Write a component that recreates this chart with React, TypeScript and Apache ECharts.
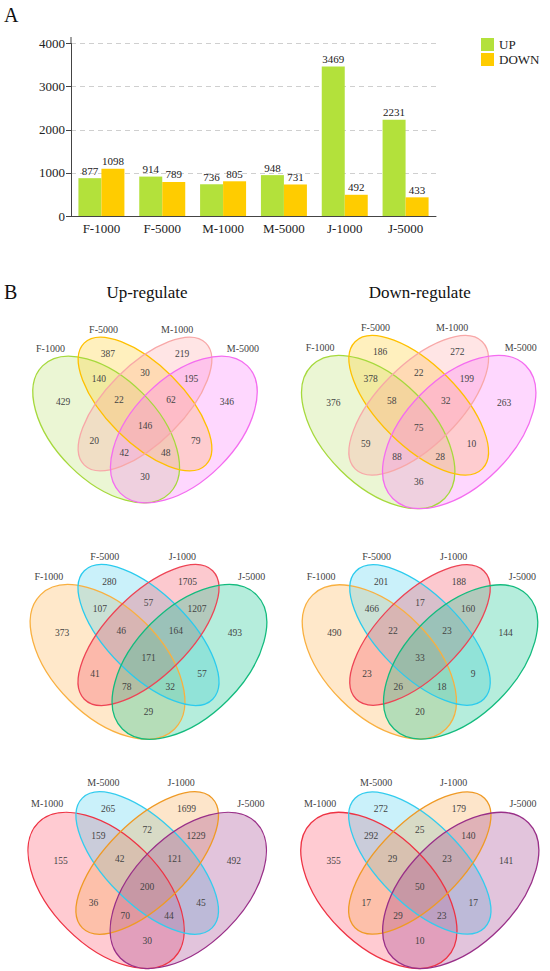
import React, { useEffect, useRef } from 'react';
import * as echarts from 'echarts';

// ---------- Panel A data ----------
const categories = ['F-1000', 'F-5000', 'M-1000', 'M-5000', 'J-1000', 'J-5000'];
const upValues = [877, 914, 736, 948, 3469, 2231];
const downValues = [1098, 789, 805, 731, 492, 433];
const yTicks = [0, 1000, 2000, 3000, 4000];

// ---------- Panel B data (region order: A, B, C, D, AB, BC, CD, ABC, BCD, ABCD, AC, BD, ACD, ABD, AD) ----------
const namesFM = ['F-1000', 'F-5000', 'M-1000', 'M-5000'];
const namesFJ = ['F-1000', 'F-5000', 'J-1000', 'J-5000'];
const namesMJ = ['M-1000', 'M-5000', 'J-1000', 'J-5000'];
const upFM = [429, 387, 219, 346, 140, 30, 195, 22, 62, 146, 20, 79, 42, 48, 30];
const downFM = [376, 186, 272, 263, 378, 22, 199, 58, 32, 75, 59, 10, 88, 28, 36];
const upFJ = [373, 280, 1705, 493, 107, 57, 1207, 46, 164, 171, 41, 57, 78, 32, 29];
const downFJ = [490, 201, 188, 144, 466, 17, 160, 22, 23, 33, 23, 9, 26, 18, 20];
const upMJ = [155, 265, 1699, 492, 159, 72, 1229, 42, 121, 200, 36, 45, 70, 44, 30];
const downMJ = [355, 272, 179, 141, 292, 25, 140, 29, 23, 50, 17, 17, 29, 23, 10];
const titles = ['Up-regulate', 'Down-regulate'];

// ---------- layout (unit space of a 4-set ellipse Venn) ----------
const Q = Math.PI / 4;
const ellipseLayout = [
  { x: 0.35, y: 0.47, a: 0.35, b: 0.2, rot: -Q },
  { x: 0.5, y: 0.57, a: 0.335, b: 0.15, rot: -Q },
  { x: 0.5, y: 0.57, a: 0.335, b: 0.15, rot: Q },
  { x: 0.65, y: 0.47, a: 0.35, b: 0.2, rot: Q },
];
const regionPos = [
  [0.184, 0.578], [0.357, 0.768], [0.643, 0.768], [0.816, 0.578],
  [0.322, 0.668], [0.5, 0.69], [0.678, 0.668],
  [0.4, 0.586], [0.6, 0.586], [0.5, 0.484],
  [0.304, 0.425], [0.696, 0.425], [0.42, 0.378], [0.58, 0.378], [0.5, 0.284],
];
const namePos = [[0.135, 0.788], [0.34, 0.863], [0.624, 0.863], [0.878, 0.788]];

const panels = [
  { cx: 145, cy: 404, ux: 259, uy: 255 },
  { cx: 418.7, cy: 405.3, ux: 270, uy: 267 },
  { cx: 148.5, cy: 635, ux: 273, uy: 269 },
  { cx: 420, cy: 635, ux: 271, uy: 269 },
  { cx: 147.2, cy: 863, ux: 274, uy: 274 },
  { cx: 419.8, cy: 863, ux: 273, uy: 274 },
];

const paletteFM = [
  { stroke: '#a6d93c', fill: 'rgba(165,215,60,0.22)' },
  { stroke: '#ffc000', fill: 'rgba(255,205,40,0.3)' },
  { stroke: '#f8a8a8', fill: 'rgba(255,150,150,0.25)' },
  { stroke: '#f46cf0', fill: 'rgba(250,110,250,0.28)' },
];
const paletteFJ = [
  { stroke: '#f9b040', fill: 'rgba(255,180,80,0.3)' },
  { stroke: '#2bcbee', fill: 'rgba(80,210,240,0.3)' },
  { stroke: '#ee4455', fill: 'rgba(245,90,110,0.33)' },
  { stroke: '#13bb7e', fill: 'rgba(30,200,150,0.33)' },
];
const paletteMJ = [
  { stroke: '#ee3344', fill: 'rgba(255,110,130,0.36)' },
  { stroke: '#33ccee', fill: 'rgba(80,210,240,0.3)' },
  { stroke: '#ef9a25', fill: 'rgba(250,170,80,0.3)' },
  { stroke: '#992f88', fill: 'rgba(160,60,140,0.3)' },
];

const FONT = 'Liberation Serif';

function vennElements(p: any, values: number[], names: string[], pal: any[]) {
  const els: any[] = [];
  const toX = (u: number) => p.cx + (u - 0.5) * p.ux;
  const toY = (v: number) => p.cy - (v - 0.57) * p.uy;
  const U = (p.ux + p.uy) / 2;
  ellipseLayout.forEach((e, i) => {
    els.push({
      type: 'ellipse', x: toX(e.x), y: toY(e.y), rotation: e.rot, silent: true, z: 1,
      shape: { cx: 0, cy: 0, rx: e.a * U, ry: e.b * U },
      style: { fill: pal[i].fill, stroke: 'none' },
    });
  });
  ellipseLayout.forEach((e, i) => {
    els.push({
      type: 'ellipse', x: toX(e.x), y: toY(e.y), rotation: e.rot, silent: true, z: 2,
      shape: { cx: 0, cy: 0, rx: e.a * U, ry: e.b * U },
      style: { fill: 'none', stroke: pal[i].stroke, lineWidth: 1.3 },
    });
  });
  values.forEach((v, i) => {
    els.push({
      type: 'text', x: toX(regionPos[i][0]), y: toY(regionPos[i][1]), z: 3, silent: true,
      style: {
        text: String(v), fill: '#444', fontSize: 9.5, fontFamily: FONT,
        align: 'center', verticalAlign: 'middle', textAlign: 'center', textVerticalAlign: 'middle',
      },
    });
  });
  names.forEach((n, i) => {
    els.push({
      type: 'text', x: toX(namePos[i][0]), y: toY(namePos[i][1]), z: 3, silent: true,
      style: {
        text: n, fill: '#444', fontSize: 10, fontFamily: FONT,
        align: 'center', verticalAlign: 'middle', textAlign: 'center', textVerticalAlign: 'middle',
      },
    });
  });
  return els;
}

export default function App() {
  const ref = useRef<HTMLDivElement>(null);
  useEffect(() => {
    if (!ref.current) return;
    const chart = echarts.init(ref.current, undefined, { renderer: 'svg' });
    const venns = [
      { v: upFM, n: namesFM, pal: paletteFM },
      { v: downFM, n: namesFM, pal: paletteFM },
      { v: upFJ, n: namesFJ, pal: paletteFJ },
      { v: downFJ, n: namesFJ, pal: paletteFJ },
      { v: upMJ, n: namesMJ, pal: paletteMJ },
      { v: downMJ, n: namesMJ, pal: paletteMJ },
    ];
    let graphics: any[] = [];
    venns.forEach((d, i) => {
      graphics = graphics.concat(vennElements(panels[i], d.v, d.n, d.pal));
    });
    graphics.push(
      { type: 'text', x: 4, y: 15, style: { text: 'A', fill: '#111', fontSize: 20, fontFamily: FONT, verticalAlign: 'middle', textVerticalAlign: 'middle' } },
      { type: 'text', x: 4, y: 292, style: { text: 'B', fill: '#111', fontSize: 20, fontFamily: FONT, verticalAlign: 'middle', textVerticalAlign: 'middle' } },
      { type: 'text', x: panels[0].cx + 2, y: 292.7, style: { text: titles[0], fill: '#111', fontSize: 17, fontFamily: FONT, align: 'center', verticalAlign: 'middle', textAlign: 'center', textVerticalAlign: 'middle' } },
      { type: 'text', x: panels[1].cx + 1, y: 292.7, style: { text: titles[1], fill: '#111', fontSize: 17, fontFamily: FONT, align: 'center', verticalAlign: 'middle', textAlign: 'center', textVerticalAlign: 'middle' } },
      { type: 'line', shape: { x1: 71, y1: 37, x2: 71, y2: 44 }, style: { stroke: '#444', lineWidth: 1 } },
    );

    chart.setOption({
      animation: false,
      textStyle: { fontFamily: FONT },
      legend: {
        data: ['UP', 'DOWN'], orient: 'vertical', left: 476, top: 33,
        itemWidth: 13, itemHeight: 13, itemGap: 2, icon: 'rect',
        textStyle: { fontSize: 13, color: '#222', fontFamily: FONT },
      },
      grid: { left: 71, right: 114, top: 43.5, bottom: 755, containLabel: false },
      xAxis: {
        type: 'category', data: categories, boundaryGap: true,
        axisLine: { lineStyle: { color: '#444' } },
        axisTick: { alignWithLabel: true, length: 4, lineStyle: { color: '#444' } },
        axisLabel: { fontSize: 13, color: '#222', margin: 6, fontFamily: FONT },
      },
      yAxis: {
        type: 'value', min: yTicks[0], max: yTicks[yTicks.length - 1], interval: 1000,
        axisLine: { show: true, lineStyle: { color: '#444' } },
        axisTick: { show: true, length: 5, lineStyle: { color: '#444' } },
        axisLabel: { fontSize: 13, color: '#222', margin: 6, fontFamily: FONT, formatter: (v: number) => String(v) },
        splitLine: { show: true, lineStyle: { color: '#cfcfcf', type: [5, 4] } },
      },
      series: [
        {
          name: 'UP', type: 'bar', data: upValues, barWidth: 23, barGap: '0%',
          itemStyle: { color: '#b3e13b' },
          label: { show: true, position: 'top', distance: 2, fontSize: 11, color: '#222', fontFamily: FONT },
        },
        {
          name: 'DOWN', type: 'bar', data: downValues, barWidth: 23, barGap: '0%',
          itemStyle: { color: '#ffcc00' },
          label: { show: true, position: 'top', distance: 2, fontSize: 11, color: '#222', fontFamily: FONT },
        },
      ],
      graphic: graphics,
    });
    return () => chart.dispose();
  }, []);
  return <div ref={ref} style={{ position: 'absolute', left: 0, top: 0, width: 550, height: 971, background: '#fff' }} />;
}
